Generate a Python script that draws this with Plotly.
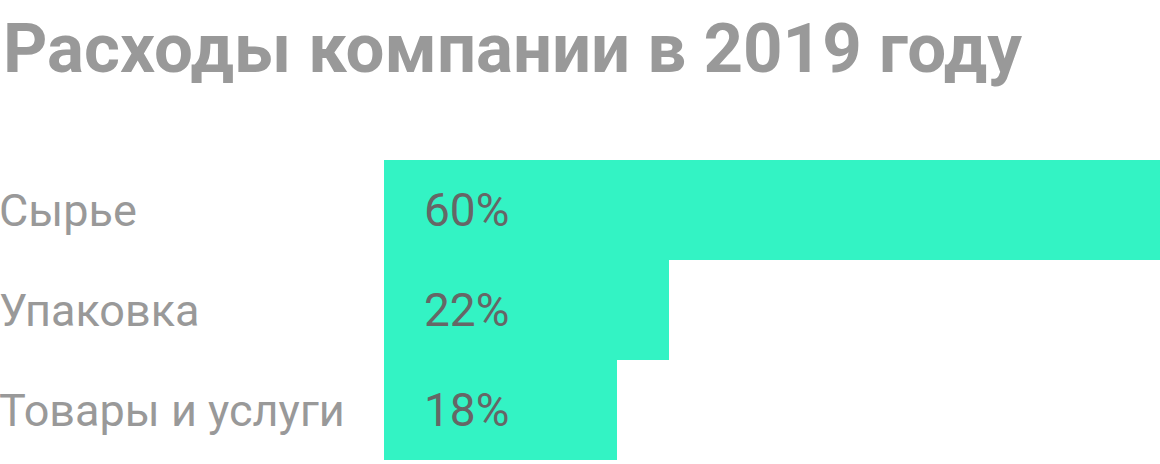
import plotly.graph_objects as go

# data
categories = ["Сырье", "Упаковка", "Товары и услуги"]
shares = [60, 22, 18]
value_labels = ["60%", "22%", "18%"]
title_text = "Расходы компании в 2019 году"

BAR_COLOR = "#33f3c4"
GREY = "#999999"
DARK = "#666666"
FONT = "Roboto, Arial, sans-serif"

fig = go.Figure()
fig.add_trace(go.Bar(
    x=shares, y=categories, orientation="h",
    marker=dict(color=BAR_COLOR, line=dict(width=0)),
    hoverinfo="skip",
))

# category names at the far left
for cat in categories:
    fig.add_annotation(
        x=0, xref="paper", y=cat, yref="y", xshift=-3,
        text=cat, showarrow=False, xanchor="left", yanchor="middle",
        font=dict(family=FONT, size=45, color=GREY),
    )

# values inside the bars
for cat, lbl in zip(categories, value_labels):
    fig.add_annotation(
        x=0, xref="x", y=cat, yref="y", xshift=38,
        text=lbl, showarrow=False, xanchor="left", yanchor="middle",
        font=dict(family=FONT, size=46, color=DARK),
    )

fig.update_layout(
    width=1160, height=464,
    margin=dict(l=0, r=0, t=160, b=4),
    paper_bgcolor="white", plot_bgcolor="white",
    showlegend=False, bargap=0,
    title=dict(
        text="<b>" + title_text + "</b>",
        x=0, xref="paper", xanchor="left",
        y=1, yref="container", yanchor="top", pad=dict(t=24, l=3),
        font=dict(family=FONT, size=69, color=GREY),
    ),
    xaxis=dict(domain=[384 / 1160, 1], range=[0, 60], visible=False, fixedrange=True),
    yaxis=dict(autorange="reversed", visible=False, fixedrange=True),
)

# drop the default page margin so the chart sits at the window corner
fig.write_html("out.html", config={"displayModeBar": False},
               post_script="document.body.style.margin='0';")
